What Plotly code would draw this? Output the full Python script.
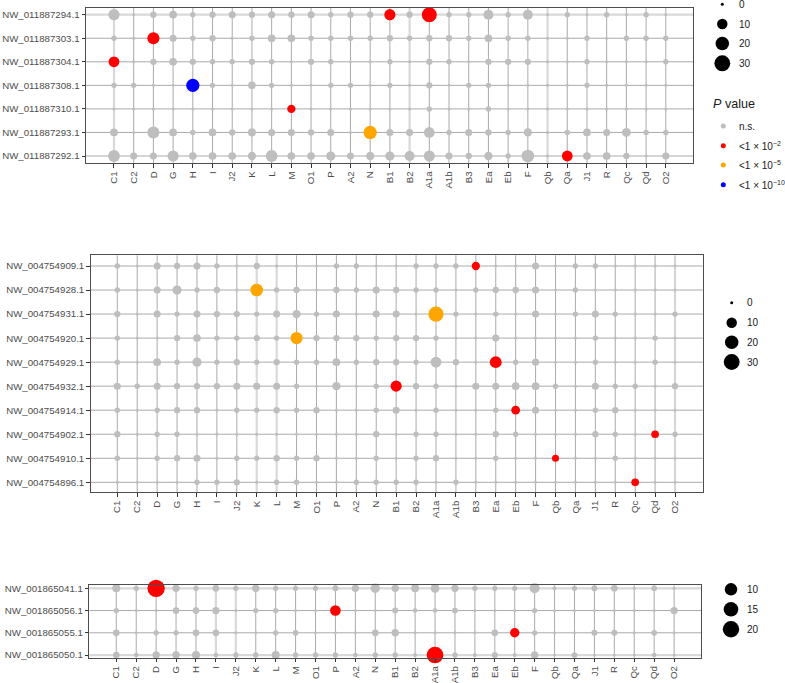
import math
import plotly.graph_objects as go

# ---------------- data ----------------
categories = ["C1", "C2", "D", "G", "H", "I", "J2", "K", "L", "M", "O1", "P", "A2", "N",
              "B1", "B2", "A1a", "A1b", "B3", "Ea", "Eb", "F", "Qb", "Qa", "J1", "R", "Qc", "Qd", "O2"]

scaffolds_1 = ["NW_011887294.1", "NW_011887303.1", "NW_011887304.1", "NW_011887308.1",
               "NW_011887310.1", "NW_011887293.1", "NW_011887292.1"]
counts_1 = [
    [12, 0, 2, 4, 1, 2, 3, 2, 3, 2, 3, 1, 2, 2, 12, 2, 26, 1, 1, 9, 1, 9, 0, 1, 0, 1, 0, 1, 0],
    [1, 0, 15, 3, 1, 2, 0, 1, 4, 4, 1, 1, 1, 1, 2, 1, 2, 2, 1, 4, 1, 1, 0, 0, 1, 0, 1, 1, 1],
    [11, 0, 2, 4, 2, 1, 1, 2, 1, 0, 2, 1, 0, 0, 1, 0, 2, 1, 0, 2, 2, 2, 0, 0, 1, 0, 0, 0, 1],
    [1, 1, 0, 0, 19, 1, 0, 4, 1, 0, 0, 1, 1, 0, 1, 0, 2, 0, 1, 1, 0, 0, 0, 0, 1, 0, 0, 0, 0],
    [0, 0, 0, 0, 0, 0, 0, 0, 0, 5, 0, 0, 0, 0, 0, 0, 1, 0, 0, 1, 0, 0, 0, 0, 0, 0, 0, 0, 0],
    [4, 0, 15, 4, 1, 4, 2, 5, 3, 3, 2, 3, 0, 19, 3, 3, 11, 1, 3, 2, 1, 5, 0, 1, 4, 3, 6, 1, 1],
    [14, 3, 3, 12, 4, 4, 4, 5, 14, 4, 4, 7, 3, 5, 7, 9, 12, 3, 2, 5, 1, 17, 0, 11, 4, 4, 2, 0, 3],
]
significant_1 = [("NW_011887294.1", "B1", 1), ("NW_011887294.1", "A1a", 1),
                 ("NW_011887303.1", "D", 1), ("NW_011887304.1", "C1", 1),
                 ("NW_011887308.1", "H", 3), ("NW_011887310.1", "M", 1),
                 ("NW_011887293.1", "N", 2), ("NW_011887292.1", "Qa", 1)]

scaffolds_2 = ["NW_004754909.1", "NW_004754928.1", "NW_004754931.1", "NW_004754920.1",
               "NW_004754929.1", "NW_004754932.1", "NW_004754914.1", "NW_004754902.1",
               "NW_004754910.1", "NW_004754896.1"]
counts_2 = [
    [1, 0, 3, 2, 3, 1, 0, 2, 0, 0, 0, 1, 1, 0, 0, 1, 1, 1, 5, 0, 0, 3, 0, 1, 1, 0, 0, 0, 0],
    [1, 0, 3, 7, 1, 2, 0, 17, 1, 2, 0, 2, 1, 3, 2, 1, 1, 0, 1, 2, 2, 3, 0, 1, 0, 0, 0, 0, 0],
    [2, 0, 3, 1, 3, 2, 2, 1, 3, 5, 1, 3, 0, 3, 3, 0, 27, 1, 0, 1, 0, 3, 0, 1, 3, 1, 0, 0, 1],
    [1, 0, 0, 2, 4, 1, 1, 2, 1, 15, 2, 2, 2, 1, 2, 2, 1, 0, 0, 3, 0, 0, 0, 0, 1, 0, 0, 1, 0],
    [1, 0, 4, 1, 7, 1, 2, 1, 2, 1, 1, 4, 1, 2, 2, 1, 11, 2, 0, 14, 1, 3, 0, 0, 1, 0, 0, 1, 0],
    [3, 1, 3, 2, 2, 2, 3, 3, 3, 1, 0, 5, 0, 1, 12, 2, 1, 0, 3, 3, 4, 4, 1, 0, 3, 1, 1, 0, 2],
    [1, 0, 1, 2, 2, 0, 1, 1, 2, 1, 2, 0, 0, 1, 3, 0, 1, 0, 0, 1, 6, 3, 0, 0, 1, 2, 0, 0, 0],
    [2, 0, 1, 1, 0, 0, 0, 0, 0, 0, 0, 0, 0, 2, 0, 1, 1, 0, 0, 2, 1, 0, 0, 0, 2, 1, 0, 4, 1],
    [1, 0, 1, 2, 3, 0, 1, 1, 2, 1, 2, 0, 0, 1, 0, 1, 2, 0, 0, 1, 0, 0, 3, 0, 0, 1, 0, 0, 0],
    [0, 0, 0, 0, 1, 1, 2, 0, 1, 1, 0, 0, 1, 1, 1, 1, 0, 1, 0, 0, 0, 0, 0, 0, 0, 0, 4, 0, 0],
]
significant_2 = [("NW_004754909.1", "B3", 1), ("NW_004754928.1", "K", 2),
                 ("NW_004754931.1", "A1a", 2), ("NW_004754920.1", "M", 2),
                 ("NW_004754929.1", "Ea", 1), ("NW_004754932.1", "B1", 1),
                 ("NW_004754914.1", "Eb", 1), ("NW_004754902.1", "Qd", 1),
                 ("NW_004754910.1", "Qb", 1), ("NW_004754896.1", "Qc", 1)]

scaffolds_3 = ["NW_001865041.1", "NW_001865056.1", "NW_001865055.1", "NW_001865050.1"]
counts_3 = [
    [2.8, 0.6, 22.8, 2.1, 0.6, 1.5, 0.6, 2.1, 0.6, 0.6, 0.6, 1.0, 2.1, 4.5, 2.1, 2.8, 3.6, 2.1, 0.6, 0.6, 0.6, 5.4, 0.1, 0.6, 1.0, 1.5, 0.0, 0.8, 0.0],
    [0.6, 0.0, 0.0, 1.5, 1.5, 2.1, 0.0, 0.6, 0.6, 0.0, 0.0, 6.5, 0.0, 0.0, 1.0, 0.3, 0.3, 0.8, 0.0, 0.0, 0.0, 0.6, 0.0, 0.0, 0.0, 0.0, 0.0, 0.0, 2.1],
    [1.5, 0.0, 0.6, 0.6, 1.5, 1.5, 0.0, 0.0, 0.6, 0.8, 0.0, 0.0, 0.0, 1.5, 2.1, 0.0, 0.0, 0.0, 0.0, 1.5, 4.5, 0.6, 0.0, 0.0, 1.0, 1.0, 0.0, 0.8, 0.0],
    [1.5, 0.3, 2.1, 2.1, 2.8, 0.3, 0.6, 0.6, 2.8, 0.6, 0.6, 0.6, 0.3, 0.6, 0.6, 0.1, 20.8, 0.6, 0.1, 1.0, 0.1, 2.1, 0.0, 0.8, 0.0, 0.0, 0.0, 0.3, 0.0],
]
significant_3 = [("NW_001865041.1", "D", 1), ("NW_001865056.1", "P", 1),
                 ("NW_001865055.1", "Eb", 1), ("NW_001865050.1", "A1a", 1)]

pvalue_labels = ["n.s.", "<1 × 10<sup>−2</sup>", "<1 × 10<sup>−5</sup>", "<1 × 10<sup>−10</sup>"]
pvalue_colors = ["#BEBEBE", "#FF0000", "#FFA500", "#0000FF"]

size_breaks_1 = [0, 10, 20, 30]
size_breaks_2 = [0, 10, 20, 30]
size_breaks_3 = [10, 15, 20]

# light (uncovered) grid segments seen in the figure
light_cols_1 = ["C1", "B2", "Qb"]
light_rows_1 = ["NW_011887294.1"]
light_cols_2 = ["K", "L"]
light_rows_2 = []
light_cols_3 = ["I", "J2"]
light_rows_3 = ["NW_001865041.1", "NW_001865050.1"]

# ---------------- styling / layout ----------------
W, H = 785, 683
FONT = "Liberation Sans, Arial, sans-serif"
AX_TXT = "#4d4d4d"
DARK_GRID = "#ababab"
LIGHT_GRID = "#d9d9d9"


def scale_a(v):
    return 3 + 2.35 * math.sqrt(v)


def scale_b(v):
    return 3 + 3.0 * math.sqrt(v)


panels = [
    dict(rows=scaffolds_1, counts=counts_1, sig=significant_1, scale=scale_a,
         xpx=(86, 693), ypx=(8, 163), xr=(-1.42, 29.38), yr=(6.297, -0.284),
         lc=light_cols_1, lr=light_rows_1),
    dict(rows=scaffolds_2, counts=counts_2, sig=significant_2, scale=scale_a,
         xpx=(90.7, 702.7), ypx=(255.3, 492.3), xr=(-1.335, 29.39), yr=(9.416, -0.445),
         lc=light_cols_2, lr=light_rows_2),
    dict(rows=scaffolds_3, counts=counts_3, sig=significant_3, scale=scale_b,
         xpx=(89.3, 701), ypx=(585.3, 657.7), xr=(-1.355, 29.35), yr=(3.12, -0.135),
         lc=light_cols_3, lr=light_rows_3),
]

fig = go.Figure()
layout = dict(width=W, height=H, margin=dict(l=0, r=0, t=0, b=0, autoexpand=False),
              paper_bgcolor="white", plot_bgcolor="rgba(0,0,0,0)", showlegend=False,
              hovermode=False,
              font=dict(family=FONT, color=AX_TXT, size=9.7))
shapes = []

for i, p in enumerate(panels, start=1):
    xa = "x" if i == 1 else f"x{i}"
    ya = "y" if i == 1 else f"y{i}"
    sigmap = {(r, c): k for r, c, k in p["sig"]}
    xs, ys, sz, cl = [], [], [], []
    xs2, ys2, sz2, cl2 = [], [], [], []
    for r, row in zip(p["rows"], p["counts"]):
        for c, v in zip(categories, row):
            k = sigmap.get((r, c), 0)
            if k == 0:
                xs.append(c); ys.append(r); sz.append(p["scale"](v)); cl.append(pvalue_colors[0])
            else:
                xs2.append(c); ys2.append(r); sz2.append(p["scale"](v)); cl2.append(pvalue_colors[k])
    for X, Y, S, C in ((xs, ys, sz, cl), (xs2, ys2, sz2, cl2)):
        fig.add_trace(go.Scatter(x=X, y=Y, mode="markers", xaxis=xa, yaxis=ya,
                                 cliponaxis=False, hoverinfo="skip",
                                 marker=dict(size=S, color=C, line=dict(width=0), opacity=1)))
    x0, x1 = p["xpx"]
    y0, y1 = p["ypx"]
    axcommon = dict(showline=True, mirror=True, linecolor="#4d4d4d", linewidth=1,
                    showgrid=False, zeroline=False, automargin=False,
                    ticks="outside", ticklen=3.5, tickwidth=1, tickcolor="#333333",
                    tickfont=dict(family=FONT, size=9.7, color=AX_TXT),
                    type="category", fixedrange=True)
    layout["xaxis" if i == 1 else f"xaxis{i}"] = dict(
        axcommon, domain=[x0 / W, x1 / W], anchor=ya, range=list(p["xr"]),
        categoryorder="array", categoryarray=categories, tickangle=-90)
    layout["yaxis" if i == 1 else f"yaxis{i}"] = dict(
        axcommon, domain=[1 - y1 / H, 1 - y0 / H], anchor=xa, range=list(p["yr"]),
        categoryorder="array", categoryarray=p["rows"])
    # grid lines: dark thin where covered, light thick where uncovered
    for j, c in enumerate(categories):
        light = c in p["lc"]
        shapes.append(dict(type="line", layer="below", xref=xa, yref=f"{ya} domain",
                           x0=j, x1=j, y0=0, y1=1,
                           line=dict(color=LIGHT_GRID if light else DARK_GRID,
                                     width=2.2 if light else 1)))
    for j, r in enumerate(p["rows"]):
        light = r in p["lr"]
        shapes.append(dict(type="line", layer="below", xref=f"{xa} domain", yref=ya,
                           x0=0, x1=1, y0=j, y1=j,
                           line=dict(color=LIGHT_GRID if light else DARK_GRID,
                                     width=2.2 if light else 1)))

# overlay axis in pixel units for the legends
layout["xaxis4"] = dict(domain=[0, 1], range=[0, W], visible=False, anchor="y4",
                        fixedrange=True, automargin=False)
layout["yaxis4"] = dict(domain=[0, 1], range=[H, 0], visible=False, anchor="x4",
                        fixedrange=True, automargin=False)

annotations = []
LEG_TXT = "#1a1a1a"


def size_legend(breaks, scale, xdot, xtxt, ys):
    fig.add_trace(go.Scatter(x=[xdot] * len(breaks), y=ys, mode="markers", xaxis="x4", yaxis="y4",
                             cliponaxis=False, hoverinfo="skip",
                             marker=dict(size=[scale(b) for b in breaks], color="#000000",
                                         opacity=1, line=dict(width=0))))
    for b, y in zip(breaks, ys):
        annotations.append(dict(x=xtxt, y=y, xref="x4", yref="y4", text=str(b), showarrow=False,
                                xanchor="left", yanchor="middle",
                                font=dict(family=FONT, size=10, color=LEG_TXT)))


size_legend(size_breaks_1, scale_a, 722.3, 737, [4.3, 24, 43.6, 63.3])
size_legend(size_breaks_2, scale_a, 731.7, 745, [302.7, 322.7, 342.3, 362])
size_legend(size_breaks_3, scale_b, 731, 745, [589.3, 609.3, 629.3])

# P value legend
annotations.append(dict(x=711, y=104, xref="x4", yref="y4", text="<i>P</i> value", showarrow=False,
                        xanchor="left", yanchor="middle",
                        font=dict(family=FONT, size=12.6, color=LEG_TXT)))
pv_y = [126, 145.7, 165, 184.7]
fig.add_trace(go.Scatter(x=[723.3] * 4, y=pv_y, mode="markers", xaxis="x4", yaxis="y4",
                         cliponaxis=False, hoverinfo="skip",
                         marker=dict(size=5, color=pvalue_colors, line=dict(width=0))))
for lab, y in zip(pvalue_labels, pv_y):
    annotations.append(dict(x=737, y=y, xref="x4", yref="y4", text=lab, showarrow=False,
                            xanchor="left", yanchor="middle",
                            font=dict(family=FONT, size=10, color=LEG_TXT)))

layout["shapes"] = shapes
layout["annotations"] = annotations
fig.update_layout(**layout)
fig.write_html("out.html", config={"displayModeBar": False},
               post_script="document.body.style.margin='0px';")
